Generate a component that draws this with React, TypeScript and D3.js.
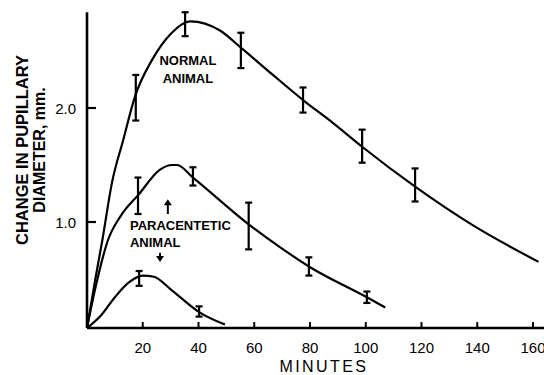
// @ts-nocheck
import * as d3 from 'd3';

// curves (minutes, change in pupillary diameter mm)
const normalMinutes = [0, 3, 5.5, 9, 13, 17.2, 23.3, 30, 37, 47.7, 55.2, 66.7, 77.5, 88.2, 98.7, 117.7, 138.5, 162];
const normalValues = [0.07, 0.5, 0.84, 1.35, 1.72, 2.1, 2.42, 2.65, 2.76, 2.68, 2.53, 2.29, 2.07, 1.87, 1.66, 1.31, 0.97, 0.65];

const paraMinutes = [0, 3, 7.5, 12, 18.5, 26.2, 30.5, 32.3, 38, 58, 69.2, 79.6, 100.4, 107];
const paraValues = [0.07, 0.42, 0.84, 1.05, 1.24, 1.46, 1.5, 1.5, 1.39, 0.98, 0.78, 0.61, 0.34, 0.25];

const lowMinutes = [0, 5, 10, 15, 20, 24, 30, 40.2, 49.5];
const lowValues = [0.07, 0.18, 0.34, 0.47, 0.53, 0.52, 0.41, 0.21, 0.1];

// error bars
const normalBarX = [17.5, 35.2, 55.2, 77.5, 98.7, 117.7];
const normalBarHi = [2.29, 2.84, 2.66, 2.18, 1.81, 1.47];
const normalBarLo = [1.89, 2.63, 2.35, 1.96, 1.52, 1.18];

const paraBarX = [18.3, 38, 58, 79.6, 100.4];
const paraBarHi = [1.39, 1.48, 1.17, 0.69, 0.39];
const paraBarLo = [1.07, 1.32, 0.76, 0.53, 0.29];

const lowBarX = [18.7, 40.2];
const lowBarHi = [0.57, 0.26];
const lowBarLo = [0.44, 0.17];

const xTicks = [20, 40, 60, 80, 100, 120, 140, 160];
const yTicks = [1.0, 2.0];

const App = () => {
  const width = 544;
  const height = 375;
  const font = '"Liberation Sans", Arial, sans-serif';

  const xScale = d3.scaleLinear().domain([0, 160]).range([87, 533]);
  const yScale = d3.scaleLinear().domain([1, 2]).range([222, 108]);

  const xMin = 0;
  const xMax = 164;
  const yMin = 0.07;
  const yMax = 2.84;

  const line = d3.line()
    .x((d) => xScale(d[0]))
    .y((d) => yScale(d[1]))
    .curve(d3.curveMonotoneX);

  const curves = [
    d3.zip(normalMinutes, normalValues),
    d3.zip(paraMinutes, paraValues),
    d3.zip(lowMinutes, lowValues),
  ];

  const bars = [
    ...normalBarX.map((x, i) => ({ x, hi: normalBarHi[i], lo: normalBarLo[i] })),
    ...paraBarX.map((x, i) => ({ x, hi: paraBarHi[i], lo: paraBarLo[i] })),
    ...lowBarX.map((x, i) => ({ x, hi: lowBarHi[i], lo: lowBarLo[i] })),
  ];

  const x0 = xScale(xMin);
  const yBase = yScale(yMin);

  // arrows next to PARACENTETIC label
  const upX = xScale(29);
  const upTip = yScale(1.2);
  const upTail = yScale(1.07);
  const downX = xScale(26.2);
  const downTail = yScale(0.73);
  const downTip = yScale(0.65);

  return (
    <svg width={width} height={height} style={{ position: 'absolute', left: 0, top: 0, background: '#fff' }}>
      {/* axes */}
      <line stroke="#000" strokeWidth={2.6} x1={x0} x2={xScale(xMax)} y1={yBase} y2={yBase} />
      <line stroke="#000" strokeWidth={2.6} x1={x0} x2={x0} y1={yBase} y2={yScale(yMax)} />

      {xTicks.map((t) => (
        <g key={t} transform={`translate(${xScale(t)},${yBase})`}>
          <line stroke="#000" strokeWidth={2} y1={0} y2={-6} />
          <text y={25} textAnchor="middle" fontFamily={font} fontSize={15} fill="#000">{t}</text>
        </g>
      ))}
      {yTicks.map((t) => (
        <g key={t} transform={`translate(${x0},${yScale(t)})`}>
          <line stroke="#000" strokeWidth={2.2} x1={0} x2={9} />
          <text x={-11} y={5.5} textAnchor="end" fontFamily={font} fontSize={15} fill="#000">{t.toFixed(1)}</text>
        </g>
      ))}

      <text
        x={(xScale(85))}
        y={372}
        textAnchor="middle"
        fontFamily={font}
        fontSize={16}
        letterSpacing={2.4}
        fill="#000"
      >MINUTES</text>

      <g transform={`translate(28,150) rotate(-90)`}>
        <text textAnchor="middle" fontFamily={font} fontSize={16.5} fontWeight="bold" fill="#000">CHANGE IN PUPILLARY</text>
        <text y={17} textAnchor="middle" fontFamily={font} fontSize={16} fontWeight="bold" fill="#000">DIAMETER, mm.</text>
      </g>

      {/* curves */}
      {curves.map((c, i) => (
        <path key={i} d={line(c)} fill="none" stroke="#000" strokeWidth={2.2} />
      ))}

      {/* error bars */}
      {bars.map((b, i) => (
        <g key={i} stroke="#000" strokeWidth={2.2}>
          <line x1={xScale(b.x)} x2={xScale(b.x)} y1={yScale(b.hi)} y2={yScale(b.lo)} />
          <line x1={xScale(b.x) - 3.5} x2={xScale(b.x) + 3.5} y1={yScale(b.hi)} y2={yScale(b.hi)} />
          <line x1={xScale(b.x) - 3.5} x2={xScale(b.x) + 3.5} y1={yScale(b.lo)} y2={yScale(b.lo)} />
        </g>
      ))}

      {/* labels */}
      <g fontFamily={font} fontSize={13} fontWeight="bold" fill="#000">
        <text x={xScale(36.2)} y={yScale(2.38)} textAnchor="middle">NORMAL</text>
        <text x={xScale(36.2)} y={yScale(2.22)} textAnchor="middle">ANIMAL</text>
        <text x={xScale(15.4)} y={yScale(0.93)}>PARACENTETIC</text>
        <text x={xScale(15.4)} y={yScale(0.78)}>ANIMAL</text>
      </g>

      <line stroke="#000" strokeWidth={2} x1={upX} x2={upX} y1={upTip + 3} y2={upTail} />
      <path d={`M${upX},${upTip} L${upX - 4},${upTip + 6} L${upX + 4},${upTip + 6} Z`} fill="#000" />
      <line stroke="#000" strokeWidth={2} x1={downX} x2={downX} y1={downTail} y2={downTip - 3} />
      <path d={`M${downX},${downTip} L${downX - 4},${downTip - 6} L${downX + 4},${downTip - 6} Z`} fill="#000" />
    </svg>
  );
};

export default App;
